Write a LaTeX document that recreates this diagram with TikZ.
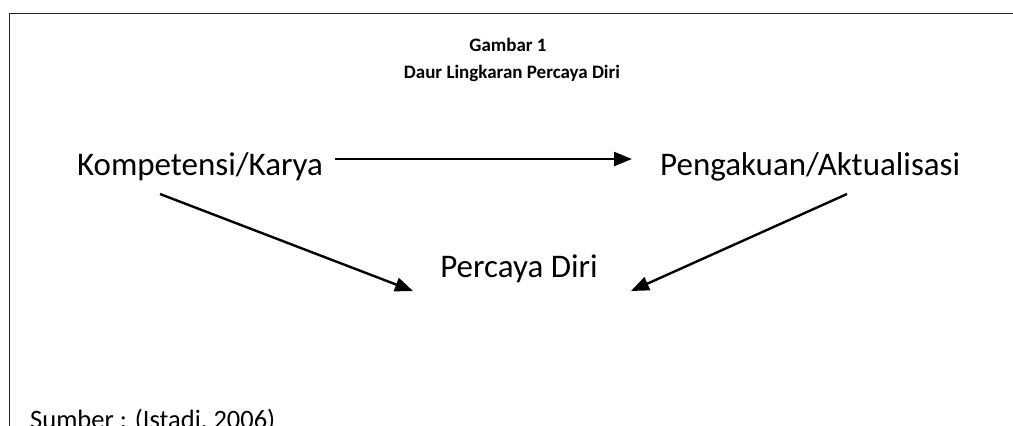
\documentclass[tikz,border=0pt]{standalone}
\usepackage{fontspec}
\setmainfont{Carlito}
\usetikzlibrary{arrows.meta,calc}
\tikzset{
  frameline/.style={line width=1.6pt,draw=black!85},
  titletext/.style={font=\fontsize{19}{23}\selectfont\bfseries,inner sep=0pt,anchor=base},
  maintext/.style={font=\fontsize{33}{40}\selectfont,inner sep=0pt},
  srctext/.style={font=\fontsize{26.5}{32}\selectfont,inner sep=0pt,anchor=base west},
  arr/.style={line width=2.4pt,-{Triangle[length=18pt,width=14pt]}}
}
\begin{document}
\begin{tikzpicture}[x=1pt,y=-1pt]
\useasboundingbox (0,0) rectangle (1013,426);
\draw[frameline] (1013,13.5) -- (9.5,13.5) -- (9.5,430);
\node[titletext] (t1) at (508,51) {Gambar 1};
\node[titletext] (t2) at (512,78) {Daur Lingkaran Percaya Diri};
\node[maintext,anchor=base] (komp) at (200,175) {Kompetensi/Karya};
\node[maintext,anchor=base west] (peng) at (660,175) {Pengakuan/Aktualisasi};
\node[maintext,anchor=base] (pd) at (519,277) {Percaya Diri};
\node[srctext] (src) at (30,428) {Sumber : (Istadi, 2006)};
\draw[arr] ($(komp.base)+(135,-16)$) -- ($(peng.base west)+(-28,-16)$);
\draw[arr] ($(komp.base)+(-40,19)$) -- ($(pd.base)+(-106,14)$);
\draw[arr] ($(peng.base west)+(187,19)$) -- ($(pd.base)+(112,14)$);
\end{tikzpicture}
\end{document}
